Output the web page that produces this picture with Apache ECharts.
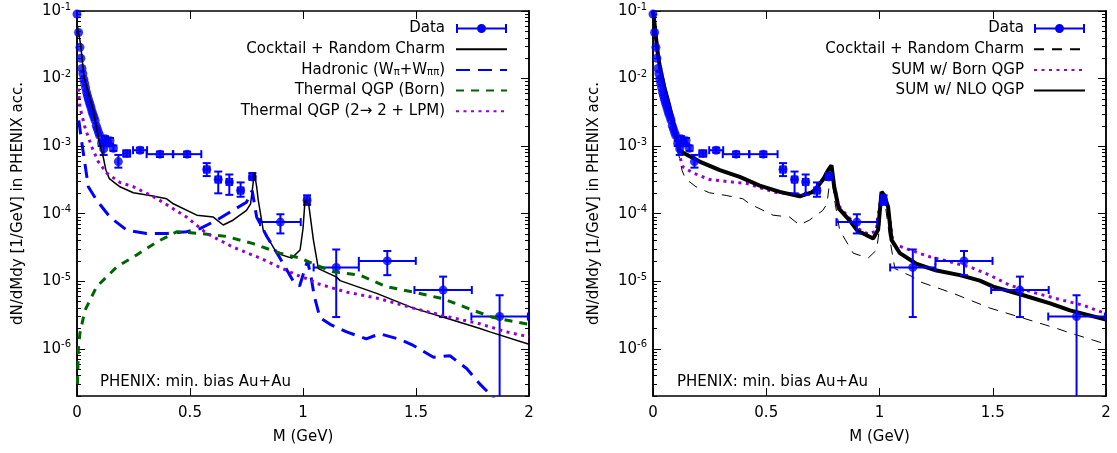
<!DOCTYPE html>
<html><head><meta charset="utf-8">
<script src="https://cdn.jsdelivr.net/npm/echarts@6/dist/echarts.min.js"></script>
<style>html,body{margin:0;padding:0;background:#fff}#c{width:1117px;height:453px}</style>
</head><body><div id="c"></div>
<script>
// ---------- data ----------
const xTickValues = [0, 0.5, 1, 1.5, 2];
const yMajorTicks = [1e-6, 1e-5, 1e-4, 1e-3, 1e-2, 1e-1];
const yMinorTicks = [];
for (let d = -7; d <= -2; d++) for (let k = 2; k <= 9; k++) { const v = k * Math.pow(10, d); if (v >= 2e-7 && v < 0.1) yMinorTicks.push(v); }

// PHENIX data: mass, value, x half-width, lower, upper
const dataM  = [0.000,0.007,0.013,0.017,0.022,0.026,0.030,0.034,0.038,0.042,0.046,0.050,0.054,0.058,0.062,0.066,0.070,0.075,0.080,0.085,0.090,0.095,0.100,0.109,0.118,0.124,0.130,0.136,0.146,0.161,0.183,0.220,0.279,0.367,0.487,0.574,0.625,0.674,0.724,0.776,0.900,1.018,1.147,1.373,1.620,1.870];
const dataV  = [0.090,0.048,0.029,0.020,0.0141,0.0118,0.0098,0.0085,0.0073,0.0063,0.0056,0.0050,0.0045,0.0041,0.0037,0.0033,0.0030,0.0027,0.0024,0.0020,0.0018,0.0016,0.00144,0.00110,0.00091,0.00129,0.00115,0.00110,0.00120,0.00093,0.00059,0.00078,0.00087,0.00076,0.00076,0.00045,0.00032,0.000295,0.00022,0.00035,0.000075,0.000158,0.000016,0.000020,0.0000074,0.0000030];
const dataXe = [0,0,0,0,0,0,0,0,0,0,0,0,0,0,0,0,0,0,0,0,0,0,0,0,0,0,0,0,0,0,0,0.015,0.031,0.059,0.063,0.012,0.012,0.012,0.012,0.012,0.090,0.012,0.100,0.126,0.127,0.125];
const dataLo = [0.090,0.048,0.029,0.020,0.0141,0.0118,0.0098,0.0085,0.0073,0.0063,0.0056,0.0050,0.0045,0.0041,0.0037,0.0033,0.0030,0.0027,0.0024,0.0020,0.0018,0.0016,0.00144,0.00100,0.00074,0.00118,0.00105,0.00100,0.00108,0.00085,0.00048,0.00070,0.00080,0.00069,0.00069,0.00036,0.00020,0.00019,0.000178,0.00032,0.000051,0.000135,0.00000295,0.0000123,0.00000295,0.0000001];
const dataHi = [0.090,0.048,0.029,0.020,0.0141,0.0118,0.0098,0.0085,0.0073,0.0063,0.0056,0.0050,0.0045,0.0041,0.0037,0.0033,0.0030,0.0027,0.0024,0.0020,0.0018,0.0016,0.00144,0.00120,0.00110,0.00140,0.00125,0.00120,0.00132,0.00102,0.00074,0.00086,0.00095,0.00083,0.00083,0.00056,0.00042,0.00038,0.00029,0.00040,0.000098,0.000187,0.0000295,0.000028,0.0000117,0.0000062];

const cocktail = [[0.001,0.062],[0.016,0.032],[0.031,0.0106],[0.05,0.0062],[0.072,0.0034],[0.1,0.0011],[0.116,0.00069],[0.128,0.00044],[0.143,0.00033],[0.19,0.00025],[0.249,0.000204],[0.323,0.000186],[0.397,0.000166],[0.426,0.00014],[0.53,0.000095],[0.603,0.000089],[0.647,0.000068],[0.69,0.00008],[0.75,0.000112],[0.768,0.00014],[0.785,0.0004],[0.795,0.00025],[0.802,0.000158],[0.824,0.000057],[0.884,0.000026],[0.95,0.000022],[0.957,0.000022],[0.987,0.000029],[1.0,0.00006],[1.009,0.000158],[1.016,0.000167],[1.025,0.00014],[1.046,0.000041],[1.068,0.0000154],[1.149,0.0000115],[1.164,0.0000102],[1.326,0.0000066],[1.488,0.000004],[1.636,0.00000283],[1.783,0.000002],[1.827,0.00000178],[2.0,0.00000117]];
const hadronic = [[0.008,0.0024],[0.02,0.0012],[0.035,0.00055],[0.05,0.00025],[0.087,0.000158],[0.146,0.000089],[0.22,0.000057],[0.308,0.000051],[0.397,0.000051],[0.485,0.000054],[0.544,0.00006],[0.618,0.00008],[0.69,0.000112],[0.75,0.000148],[0.775,0.00022],[0.795,0.000089],[0.84,0.000046],[0.898,0.000022],[0.957,0.00001],[0.985,0.0000085],[1.005,0.000014],[1.02,0.00002],[1.035,0.000012],[1.05,0.000006],[1.075,0.0000029],[1.12,0.0000023],[1.193,0.00000178],[1.28,0.0000014],[1.34,0.00000167],[1.43,0.00000137],[1.488,0.00000112],[1.577,0.00000075],[1.65,0.00000079],[1.724,0.00000051],[1.783,0.0000003],[1.835,0.0000002],[1.9,0.00000011]];
const qgpBorn = [[0.002,0.0000003],[0.006,0.000001],[0.013,0.0000017],[0.035,0.0000037],[0.087,0.0000083],[0.176,0.0000163],[0.264,0.0000245],[0.353,0.000038],[0.441,0.000054],[0.544,0.000051],[0.662,0.000046],[0.78,0.000036],[0.898,0.000026],[0.987,0.000022],[1.046,0.000018],[1.134,0.0000138],[1.252,0.0000123],[1.37,0.0000083],[1.488,0.0000069],[1.62,0.0000055],[1.754,0.0000037],[1.842,0.0000029],[2.0,0.0000023]];
const qgpLPM = [[0.006,0.0071],[0.013,0.0038],[0.035,0.0019],[0.065,0.00098],[0.094,0.00059],[0.131,0.0004],[0.19,0.00029],[0.25,0.00025],[0.35,0.00017],[0.485,0.000089],[0.574,0.000051],[0.69,0.000032],[0.81,0.000022],[0.928,0.0000144],[0.987,0.0000118],[1.031,0.0000105],[1.06,0.0000093],[1.193,0.0000069],[1.34,0.0000055],[1.488,0.000004],[1.636,0.000003],[1.783,0.00000234],[1.9,0.00000178],[2.0,0.0000015]];
const sumNLO = [[0.0,0.1],[0.005,0.075],[0.01,0.05],[0.02,0.025],[0.03,0.015],[0.05,0.0075],[0.07,0.0042],[0.09,0.0022],[0.105,0.0013],[0.118,0.00087],[0.133,0.00080],[0.206,0.00059],[0.295,0.00044],[0.383,0.00035],[0.471,0.00026],[0.56,0.00021],[0.648,0.00018],[0.707,0.00021],[0.751,0.00032],[0.775,0.00045],[0.788,0.00052],[0.80,0.00025],[0.82,0.00012],[0.869,0.000079],[0.906,0.000054],[0.928,0.000051],[0.972,0.000043],[0.994,0.000058],[1.009,0.00021],[1.02,0.00019],[1.038,0.000126],[1.053,0.000041],[1.09,0.000026],[1.164,0.000018],[1.252,0.0000144],[1.355,0.0000123],[1.443,0.0000102],[1.502,0.0000083],[1.635,0.0000062],[1.753,0.0000047],[1.841,0.0000037],[2.0,0.0000027]];
const sumBorn = [[0.0,0.1],[0.01,0.05],[0.03,0.015],[0.07,0.004],[0.1,0.0012],[0.118,0.0007],[0.133,0.00049],[0.177,0.0004],[0.25,0.00032],[0.325,0.0003],[0.413,0.00028],[0.486,0.000235],[0.545,0.000205],[0.65,0.00019],[0.71,0.00022],[0.751,0.00033],[0.788,0.00052],[0.80,0.00026],[0.82,0.00013],[0.869,0.000085],[0.906,0.00006],[0.95,0.00005],[0.985,0.000055],[1.009,0.00021],[1.038,0.00013],[1.06,0.000036],[1.134,0.000029],[1.222,0.000023],[1.31,0.0000194],[1.399,0.0000163],[1.487,0.0000123],[1.576,0.0000087],[1.694,0.0000066],[1.812,0.0000052],[1.9,0.0000044],[2.0,0.0000033]];

const labelsLeft = ['Data', 'Cocktail + Random Charm', 'Hadronic (Wπ+Wππ)', 'Thermal QGP (Born)', 'Thermal QGP (2→ 2 + LPM)'];
const labelsRight = ['Data\u200b', 'Cocktail + Random Charm\u200b', 'SUM w/ Born QGP', 'SUM w/ NLO QGP'];
const yTitle = 'dN/dMdy [1/GeV] in PHENIX acc.';
const xTitle = 'M (GeV)';
const panelNote = 'PHENIX: min. bias Au+Au';

// ---------- styling ----------
const BLUE = '#0000ff', GREEN = '#006400', PURPLE = '#9400d3', BLACK = '#000000';
const FONT = 'DejaVu Sans';
const FS = 15;
const DATA_ICON = 'path://M0,0L2,0L2,3.5L49,3.5L49,0L51,0L51,9L49,9L49,5.5L2,5.5L2,9L0,9Z M30,4.5A4.5,4.5,0,1,1,21,4.5A4.5,4.5,0,1,1,30,4.5Z';

const errData = dataM.map((m, i) => [m, dataV[i], dataXe[i], dataLo[i], dataHi[i]]);
const ptsData = dataM.map((m, i) => [m, dataV[i]]);

function renderErr(params, api) {
  const x = api.value(0), y = api.value(1), xe = api.value(2), lo = api.value(3), hi = api.value(4);
  const ch = [];
  const st = { stroke: BLUE, lineWidth: 2 };
  const cap = 4;
  if (xe > 0) {
    const a = api.coord([x - xe, y]), b = api.coord([x + xe, y]);
    ch.push({ type: 'line', shape: { x1: a[0], y1: a[1], x2: b[0], y2: b[1] }, style: st });
    ch.push({ type: 'line', shape: { x1: a[0], y1: a[1] - cap, x2: a[0], y2: a[1] + cap }, style: st });
    ch.push({ type: 'line', shape: { x1: b[0], y1: b[1] - cap, x2: b[0], y2: b[1] + cap }, style: st });
  }
  if (hi > lo) {
    const a = api.coord([x, lo]), b = api.coord([x, hi]);
    ch.push({ type: 'line', shape: { x1: a[0], y1: a[1], x2: b[0], y2: b[1] }, style: st });
    ch.push({ type: 'line', shape: { x1: a[0] - cap, y1: a[1], x2: a[0] + cap, y2: a[1] }, style: st });
    ch.push({ type: 'line', shape: { x1: b[0] - cap, y1: b[1], x2: b[0] + cap, y2: b[1] }, style: st });
  }
  return { type: 'group', children: ch };
}

const axisLineStyle = { color: BLACK, width: 1.5 };
function xAxes(grid) {
  const base = { gridIndex: grid, type: 'value', min: 0, max: 2, interval: 0.5, splitLine: { show: false },
    axisLine: { onZero: false, lineStyle: axisLineStyle },
    axisTick: { inside: true, length: 8, lineStyle: { color: BLACK, width: 1 } } };
  return [
    Object.assign({}, base, { position: 'bottom',
      axisLabel: { margin: 10, color: BLACK, fontFamily: FONT, fontSize: FS, formatter: v => String(v) },
      name: xTitle, nameLocation: 'middle', nameGap: 34,
      nameTextStyle: { color: BLACK, fontFamily: FONT, fontSize: FS } }),
    Object.assign({}, base, { position: 'top', axisLabel: { show: false } })
  ];
}
function yAxes(grid) {
  const base = { gridIndex: grid, type: 'log', logBase: 10, min: 2e-7, max: 0.1, splitLine: { show: false },
    minorTick: { show: false }, axisLine: { onZero: false, lineStyle: axisLineStyle } };
  const tk = (len, vals) => ({ inside: true, length: len, customValues: vals, lineStyle: { color: BLACK, width: 1 } });
  return [
    Object.assign({}, base, { position: 'left', axisTick: tk(8, yMajorTicks),
      axisLabel: { customValues: yMajorTicks, margin: 6, color: BLACK,
        formatter: v => '{b|10}{s|' + Math.round(Math.log10(v)) + '}',
        rich: { b: { fontSize: FS, fontFamily: FONT, color: BLACK, lineHeight: 18 },
                s: { fontSize: 10, fontFamily: FONT, color: BLACK, verticalAlign: 'top', lineHeight: 10 } } },
      name: yTitle, nameLocation: 'middle', nameGap: 51,
      nameTextStyle: { color: BLACK, fontFamily: FONT, fontSize: FS } }),
    Object.assign({}, base, { position: 'left', axisTick: tk(4, yMinorTicks), axisLabel: { show: false } }),
    Object.assign({}, base, { position: 'right', axisTick: tk(8, yMajorTicks), axisLabel: { show: false } }),
    Object.assign({}, base, { position: 'right', axisTick: tk(4, yMinorTicks), axisLabel: { show: false } })
  ];
}

function lineSeries(name, data, xi, yi, color, width, dash, z) {
  return { type: 'line', name, data, xAxisIndex: xi, yAxisIndex: yi, symbol: 'none', showSymbol: false,
    lineStyle: { color, width, type: dash, cap: 'butt' }, itemStyle: { color }, z, silent: true, animation: false };
}
function dataSeries(name, xi, yi, z) {
  return [
    { type: 'custom', name: name + ' err', data: errData, xAxisIndex: xi, yAxisIndex: yi, renderItem: renderErr,
      encode: { x: 0, y: 1 }, clip: true, z, silent: true },
    { type: 'scatter', name, data: ptsData, xAxisIndex: xi, yAxisIndex: yi, symbol: 'circle', symbolSize: 9,
      itemStyle: { color: BLUE }, z, silent: true }
  ];
}

const legendText = { color: BLACK, fontFamily: FONT, fontSize: FS, lineHeight: 16,
  rich: { sub: { fontSize: 10, fontFamily: FONT, color: BLACK, verticalAlign: 'bottom', lineHeight: 10 } } };
const legendFmt = function (name) {
  if (name.indexOf('Hadronic') === 0) return 'Hadronic (W{sub|π}+W{sub|ππ})';
  return name.replace(/\u200b/g, '');
};

function legendData(labels) {
  return [{ name: labels[0], icon: DATA_ICON, itemStyle: { opacity: 1 } }].concat(labels.slice(1));
}

const option = {
  animation: false,
  backgroundColor: '#ffffff',
  textStyle: { fontFamily: FONT },
  grid: [
    { left: 77, right: 588, top: 11, bottom: 57, outerBoundsMode: 'none' },
    { left: 653, right: 11, top: 11, bottom: 57, outerBoundsMode: 'none' }
  ],
  xAxis: xAxes(0).concat(xAxes(1)),
  yAxis: yAxes(0).concat(yAxes(1)),
  legend: [
    { orient: 'vertical', align: 'right', right: 609, top: 20.5, padding: 0, itemGap: 4.7, itemWidth: 51, itemHeight: 9,
      selectedMode: false, itemStyle: { opacity: 0 }, textStyle: Object.assign({ padding: [0, 6, 0, 0] }, legendText), formatter: legendFmt,
      data: legendData(labelsLeft) },
    { orient: 'vertical', align: 'right', right: 31, top: 20.5, padding: 0, itemGap: 4.7, itemWidth: 51, itemHeight: 9,
      selectedMode: false, itemStyle: { opacity: 0 }, textStyle: Object.assign({ padding: [0, 5, 0, 0] }, legendText), formatter: legendFmt,
      data: legendData(labelsRight) }
  ],
  graphic: [
    { type: 'text', left: 100, top: 375, silent: true, style: { text: panelNote, fill: BLACK, font: FS + 'px "' + FONT + '"' } },
    { type: 'text', left: 677, top: 375, silent: true, style: { text: panelNote, fill: BLACK, font: FS + 'px "' + FONT + '"' } }
  ],
  series: [].concat(
    dataSeries(labelsLeft[0], 0, 0, 2),
    [ lineSeries(labelsLeft[1], cocktail, 0, 0, BLACK, 1.5, 'solid', 3),
      lineSeries(labelsLeft[2], hadronic, 0, 0, BLUE, 3, [14, 8], 3),
      lineSeries(labelsLeft[3], qgpBorn, 0, 0, GREEN, 3, [8, 7], 3),
      lineSeries(labelsLeft[4], qgpLPM, 0, 0, PURPLE, 3, [3, 4.5], 3) ],
    [ lineSeries(labelsRight[1], cocktail, 2, 4, BLACK, 1, [10, 8], 3),
      lineSeries(labelsRight[2], sumBorn, 2, 4, PURPLE, 3, [3, 4.5], 3),
      lineSeries(labelsRight[3], sumNLO, 2, 4, BLACK, 4, 'solid', 3) ],
    dataSeries(labelsRight[0], 2, 4, 5)
  )
};

const chart = echarts.init(document.getElementById('c'), null, { renderer: 'canvas' });
chart.setOption(option);
</script>
</body></html>
